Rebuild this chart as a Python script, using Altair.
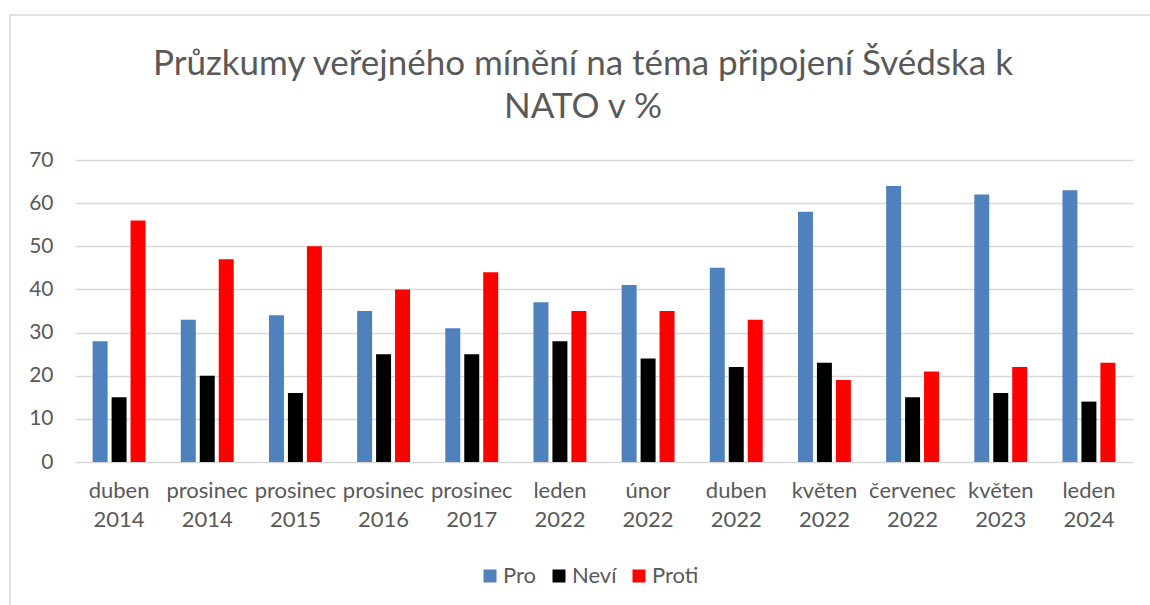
import altair as alt
import pandas as pd

categories = ["duben 2014", "prosinec 2014", "prosinec 2015", "prosinec 2016",
              "prosinec 2017", "leden 2022", "únor 2022", "duben 2022",
              "květen 2022", "červenec 2022", "květen 2023", "leden 2024"]
pro = [28, 33, 34, 35, 31, 37, 41, 45, 58, 64, 62, 63]
nevi = [15, 20, 16, 25, 25, 28, 24, 22, 23, 15, 16, 14]
proti = [56, 47, 50, 40, 44, 35, 35, 33, 19, 21, 22, 23]
series = ["Pro", "Neví", "Proti"]
colors = ["#4f81bd", "#000000", "#ff0000"]

rows = []
for s, vals in zip(series, [pro, nevi, proti]):
    for c, v in zip(categories, vals):
        rows.append({"kategorie": c, "serie": s, "hodnota": v})
df = pd.DataFrame(rows)

FONT = "Lato"
GREY = "#595959"

bars = alt.Chart(df).mark_bar().encode(
    x=alt.X("kategorie:N", sort=categories,
            scale=alt.Scale(paddingInner=0.4, paddingOuter=0.2),
            axis=alt.Axis(title=None, labelAngle=0, ticks=False, domain=False,
                          labelExpr="split(datum.label, ' ')",
                          labelFontSize=22, labelColor=GREY, labelFont=FONT,
                          labelPadding=18, labelLineHeight=29, labelBaseline="top")),
    xOffset=alt.XOffset("serie:N", sort=series,
                        scale=alt.Scale(paddingInner=0.21, paddingOuter=0)),
    y=alt.Y("hodnota:Q", scale=alt.Scale(domain=[0, 70]),
            axis=alt.Axis(title=None, values=[0, 10, 20, 30, 40, 50, 60, 70],
                          ticks=False, domain=False, gridColor="#d9d9d9",
                          gridWidth=1.5, labelFontSize=21, labelColor=GREY,
                          labelFont=FONT, labelPadding=22)),
    color=alt.Color("serie:N", sort=series,
                    scale=alt.Scale(domain=series, range=colors),
                    legend=alt.Legend(title=None, orient="none", direction="horizontal",
                                      legendX=404, legendY=405,
                                      symbolType="square", symbolSize=169,
                                      symbolStrokeWidth=0, labelFontSize=22,
                                      labelColor=GREY, labelFont=FONT,
                                      columnPadding=11, labelOffset=2)),
)

frame = alt.Chart(pd.DataFrame({"a": [0]})).mark_rect(
    fill=None, stroke="#d9d9d9", strokeWidth=1.5
).encode(x=alt.value(-65), x2=alt.value(1110), y=alt.value(-145), y2=alt.value(470))

chart = alt.layer(frame, bars).properties(
    width=1058, height=302,
    title=alt.Title(["Průzkumy veřejného mínění na téma připojení Švédska k", "NATO v %"],
                    fontSize=35, font=FONT, color=GREY, fontWeight="normal",
                    lineHeight=43, anchor="middle", frame="group", dx=-21, offset=-111),
    autosize=alt.AutoSizeParams(type="none"),
    padding={"left": 75, "top": 160, "right": 17, "bottom": 143},
).configure_view(stroke=None)

chart.save("out.html", embed_options={"renderer": "svg", "actions": False})
